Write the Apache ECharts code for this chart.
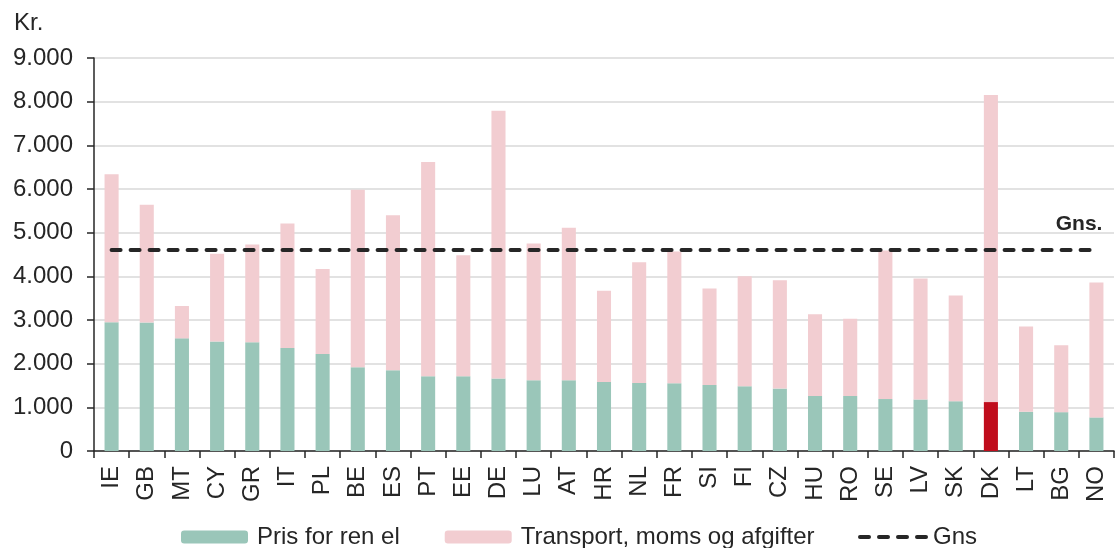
<!DOCTYPE html>
<html>
<head>
<meta charset="utf-8">
<script src="https://cdn.jsdelivr.net/npm/echarts@6/dist/echarts.min.js"></script>
<style>
  html, body { margin: 0; padding: 0; background: #ffffff; }
  #chart { width: 1120px; height: 548px; }
</style>
</head>
<body>
<div id="chart"></div>
<script>
// Elpris pr. land: ren el (grøn) + transport, moms og afgifter (rosa)
const lande = ['IE','GB','MT','CY','GR','IT','PL','BE','ES','PT','EE','DE','LU','AT','HR',
               'NL','FR','SI','FI','CZ','HU','RO','SE','LV','SK','DK','LT','BG','NO'];

const prisRenEl = [2950, 2940, 2580, 2510, 2490, 2360, 2220, 1920, 1850, 1710, 1710, 1660, 1620, 1620, 1580,
                   1560, 1550, 1510, 1480, 1430, 1260, 1260, 1190, 1180, 1140, 1120, 900, 890, 770];

const transportMomsAfgifter = [3390, 2700, 740, 2010, 2240, 2850, 1950, 4060, 3550, 4910, 2770, 6130, 3130, 3490, 2090,
                               2760, 3020, 2210, 2520, 2480, 1870, 1770, 3400, 2770, 2420, 7030, 1950, 1530, 3090];

const gennemsnit = 4620;
const fremhaevetLand = 'DK';

const yTicks = [0, 1000, 2000, 3000, 4000, 5000, 6000, 7000, 8000, 9000];

const FONT = '"Liberation Sans", Arial, sans-serif';
const FS = 24;
const TXT = '#262626';
const GROEN = '#9ac6b9';
const ROSA = '#f2cdd1';
const ROED = '#c00d1c';

// fire afrundede streger til signaturen for gennemsnitslinjen
const STREG_IKON = 'path://' + [0, 19, 38, 57].map(x =>
  `M${x + 2},0h9a2,2 0 0 1 0,4h-9a2,2 0 0 1 0,-4z`).join(' ');

function fmtTal(v) {
  return String(v).replace(/\B(?=(\d{3})+(?!\d))/g, '.');
}

const chart = echarts.init(document.getElementById('chart'), null, { renderer: 'canvas' });

chart.setOption({
  animation: false,
  backgroundColor: '#ffffff',
  title: {
    text: 'Kr.',
    left: 14,
    top: 11,
    padding: 0,
    textStyle: { fontFamily: FONT, fontSize: FS, fontWeight: 'normal', color: TXT }
  },
  grid: { left: 94, right: 6, top: 58, bottom: 97, containLabel: false },
  legend: [
    {
      left: 181,
      top: 525,
      padding: 0,
      itemWidth: 67,
      itemHeight: 13,
      itemGap: 45,
      textStyle: { fontFamily: FONT, fontSize: FS, color: TXT, padding: [0, 0, 0, 4] },
      data: ['Pris for ren el', 'Transport, moms og afgifter']
    },
    {
      left: 858,
      top: 525,
      padding: 0,
      itemWidth: 70,
      itemHeight: 4,
      textStyle: { fontFamily: FONT, fontSize: FS, color: TXT, padding: [0, 0, 0, 0] },
      data: [{ name: 'Gns', icon: STREG_IKON, itemStyle: { color: TXT } }]
    }
  ],
  xAxis: {
    type: 'category',
    data: lande,
    axisLine: { lineStyle: { color: TXT, width: 1.5 } },
    axisTick: { show: true, length: 7, lineStyle: { color: TXT, width: 1.5 } },
    axisLabel: { rotate: 90, margin: 15, fontFamily: FONT, fontSize: FS, color: TXT }
  },
  yAxis: {
    type: 'value',
    min: yTicks[0],
    max: yTicks[yTicks.length - 1],
    interval: yTicks[1] - yTicks[0],
    axisLine: { show: true, lineStyle: { color: TXT, width: 1.5 } },
    axisTick: { show: true, length: 7, lineStyle: { color: TXT, width: 1.5 } },
    axisLabel: { margin: 21, fontFamily: FONT, fontSize: FS, color: TXT, formatter: fmtTal },
    splitLine: { show: true, lineStyle: { color: '#d9d9d9', width: 1.5 } }
  },
  series: [
    {
      name: 'Pris for ren el',
      type: 'bar',
      stack: 'pris',
      barWidth: '40%',
      itemStyle: { color: GROEN },
      data: prisRenEl.map((v, i) => lande[i] === fremhaevetLand
        ? { value: v, itemStyle: { color: ROED } }
        : v)
    },
    {
      name: 'Transport, moms og afgifter',
      type: 'bar',
      stack: 'pris',
      barWidth: '40%',
      itemStyle: { color: ROSA },
      data: transportMomsAfgifter
    },
    {
      name: 'Gns',
      type: 'line',
      data: [],
      symbol: 'none',
      itemStyle: { color: TXT },
      lineStyle: { color: TXT, width: 4, type: [9, 10], cap: 'round' },
      markLine: {
        silent: true,
        symbol: ['none', 'none'],
        lineStyle: { color: TXT, width: 4, type: [9, 10], cap: 'round' },
        label: {
          show: true,
          position: 'insideEndTop',
          formatter: 'Gns.',
          distance: [-6, 15],
          fontFamily: FONT,
          fontSize: 21,
          fontWeight: 'bold',
          color: TXT
        },
        data: [[
          { coord: [lande[0], gennemsnit] },
          { coord: [lande[lande.length - 1], gennemsnit] }
        ]]
      }
    }
  ]
});
</script>
</body>
</html>
